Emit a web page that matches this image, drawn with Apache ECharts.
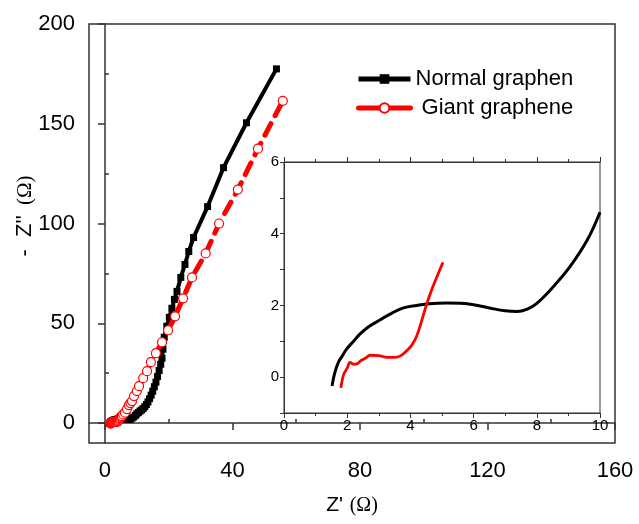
<!DOCTYPE html>
<html>
<head>
<meta charset="utf-8">
<script src="https://cdn.jsdelivr.net/npm/echarts@6/dist/echarts.min.js"></script>
<style>
  html, body { margin: 0; padding: 0; background: #fff; }
  #chart { width: 639px; height: 524px; }
</style>
</head>
<body>
<div id="chart"></div>
<script>
// Nyquist data: Z' (x) and -Z'' (y), in ohm
var normalX = [1.52, 1.6, 1.72, 1.85, 1.98, 2.2, 2.4, 2.7, 3.05, 3.4, 3.78, 4.2, 4.6, 5.15, 5.6, 6.0, 6.5, 7.0, 7.37, 7.7, 8.0, 8.5, 9.05, 9.6, 10.0,
    10.5, 11, 11.5, 12, 12.5, 13, 13.5, 14, 14.5, 15, 15.5, 16, 16.5, 17, 17.5, 17.9, 18.2, 18.6, 19.4, 20.2, 21, 21.8, 22.6, 23.8, 25.1, 26.3, 27.8, 32.2, 37.2, 44.4, 53.8];
var normalY = [-0.25, 0.1, 0.41, 0.6, 0.78, 1.0, 1.2, 1.42, 1.6, 1.78, 1.93, 2.0, 2.05, 2.07, 2.06, 2.02, 1.93, 1.85, 1.83, 1.9, 2.06, 2.5, 3.08, 3.83, 4.6,
    5.3, 6.0, 6.6, 7.3, 8.2, 9.3, 10.6, 12.2, 14, 16, 18.2, 20.5, 23.3, 26.3, 29.5, 32.5, 37, 43, 48.5, 53, 57.5, 62, 66, 73, 79.5, 86, 93, 108.5, 128, 150.5, 177.5];

var giantX = [1.8, 1.85, 1.9, 2.0, 2.09, 2.2, 2.3, 2.45, 2.6, 2.72, 3.0, 3.26, 3.5, 3.7, 3.9, 4.05, 4.2, 4.35, 4.52, 4.68, 4.84, 5.03,
    5.3, 5.7, 6.3, 6.9, 7.5, 8.0, 8.5, 9.1, 10, 10.7, 12, 13.2, 14.4, 16, 17.9, 19.8, 22, 24.5, 27.3, 31.6, 35.8, 41.7, 48, 55.8];
var giantY = [-0.3, -0.05, 0.1, 0.25, 0.41, 0.36, 0.37, 0.47, 0.54, 0.61, 0.6, 0.55, 0.55, 0.6, 0.75, 0.9, 1.15, 1.55, 2.05, 2.45, 2.8, 3.2,
    3.5, 4.3, 5.2, 7, 9, 10, 11, 13.5, 16, 18.5, 22.5, 26, 30.5, 35, 40.5, 46.5, 53.5, 62.5, 73, 85, 100, 117, 137.5, 161.5];

var seriesNames = ['Normal graphen', ' Giant graphene'];

// tick values
var mainXTicks = [0, 40, 80, 120, 160];
var mainXMinor = [20, 60, 100, 140];
var mainYTicks = [0, 50, 100, 150, 200];
var mainYMinor = [25, 75, 125, 175];
var insetLimit = 10;

function pairs(xs, ys, limit) {
    var out = [];
    for (var i = 0; i < xs.length; i++) {
        if (limit == null || xs[i] <= limit + 0.05) out.push([xs[i], ys[i]]);
    }
    return out;
}

var font = "'Liberation Sans', Arial, sans-serif";
var serif = "'Liberation Serif', 'Times New Roman', serif";
var frame = '#333';

var chart = echarts.init(document.getElementById('chart'));
chart.setOption({
    animation: false,
    backgroundColor: '#fff',
    textStyle: { fontFamily: font, color: '#000' },
    legend: {
        left: 351,
        top: 63,
        orient: 'vertical',
        itemWidth: 52,
        itemHeight: 12,
        itemGap: 7,
        data: seriesNames,
        lineStyle: { type: 'solid', width: 5 },
        textStyle: { fontSize: 22, fontFamily: font, color: '#000' }
    },
    grid: [
        // main plot
        { left: 89, top: 24, width: 526, height: 419, show: true, borderColor: frame, borderWidth: 1.5, backgroundColor: 'transparent' },
        // inset
        { left: 284, top: 162, width: 316, height: 251, show: true, borderColor: frame, borderWidth: 1, backgroundColor: '#fff' }
    ],
    xAxis: [
        {
            gridIndex: 0, type: 'value', min: -5, max: 160,
            name: "{z|Z'}  {o|(Ω)}", nameLocation: 'middle', nameGap: 52,
            nameTextStyle: {
                rich: {
                    z: { fontSize: 21, fontFamily: font, color: '#000' },
                    o: { fontSize: 20, fontFamily: serif, color: '#000' }
                }
            },
            axisLine: { show: true, lineStyle: { color: frame, width: 1.5 } },
            axisTick: { show: true, inside: false, length: 7, customValues: mainXTicks, lineStyle: { color: frame, width: 1.5 } },
            axisLabel: { customValues: mainXTicks, fontSize: 22, margin: 17, color: '#000' },
            splitLine: { show: false }
        },
        {
            gridIndex: 0, type: 'value', min: -5, max: 160,
            axisLine: { show: false },
            axisTick: { show: true, length: 4, customValues: mainXMinor, lineStyle: { color: frame, width: 1.5 } },
            axisLabel: { show: false },
            splitLine: { show: false }
        },
        {
            gridIndex: 1, type: 'value', min: 0, max: 10, interval: 2,
            axisLine: { show: true, onZero: false, lineStyle: { color: frame, width: 1 } },
            axisTick: { show: true, length: 5, lineStyle: { color: frame } },
            minorTick: { show: true, splitNumber: 2, length: 3, lineStyle: { color: frame } },
            axisLabel: { fontSize: 15, margin: 5, color: '#000' },
            splitLine: { show: false }
        },
        {
            gridIndex: 1, type: 'value', min: 0, max: 10, interval: 2, position: 'top',
            axisLine: { show: true, onZero: false, lineStyle: { color: frame, width: 1 } },
            axisTick: { show: true, length: 5, lineStyle: { color: frame } },
            minorTick: { show: true, splitNumber: 2, length: 3, lineStyle: { color: frame } },
            axisLabel: { show: false },
            splitLine: { show: false }
        }
    ],
    yAxis: [
        {
            gridIndex: 0, type: 'value', min: -10, max: 200,
            axisLine: { show: true, lineStyle: { color: frame, width: 1.5 } },
            axisTick: { show: true, length: 7, customValues: mainYTicks, lineStyle: { color: frame, width: 1.5 } },
            axisLabel: { customValues: mainYTicks, fontSize: 22, margin: 14, color: '#000' },
            splitLine: { show: false }
        },
        {
            gridIndex: 0, type: 'value', min: -10, max: 200,
            axisLine: { show: false },
            axisTick: { show: true, length: 4, customValues: mainYMinor, lineStyle: { color: frame, width: 1.5 } },
            axisLabel: { show: false },
            splitLine: { show: false }
        },
        {
            gridIndex: 1, type: 'value', min: -1, max: 6, interval: 1,
            axisLine: { show: true, onZero: false, lineStyle: { color: frame, width: 1 } },
            axisTick: { show: true, length: 4, lineStyle: { color: frame } },
            axisLabel: {
                fontSize: 15, margin: 5, color: '#000',
                formatter: function (v) { return v >= 0 && v % 2 === 0 ? String(v) : ''; }
            },
            splitLine: { show: false }
        }
    ],
    graphic: [
        {
            type: 'text', x: 25, y: 216, rotation: Math.PI / 2,
            style: {
                text: "{z|-  Z''}   {o|(Ω)}",
                align: 'center', verticalAlign: 'middle',
                rich: {
                    z: { fontSize: 22, fontFamily: font, fill: '#000' },
                    o: { fontSize: 21, fontFamily: serif, fill: '#000' }
                }
            }
        }
    ],
    series: [
        {
            name: seriesNames[0], type: 'line', xAxisIndex: 0, yAxisIndex: 0,
            data: pairs(normalX, normalY),
            symbol: 'rect', symbolSize: 7,
            itemStyle: { color: '#000' },
            lineStyle: { color: '#000', width: 4 },
            z: 3
        },
        {
            name: seriesNames[1], type: 'line', xAxisIndex: 0, yAxisIndex: 0,
            data: pairs(giantX, giantY),
            symbol: 'circle', symbolSize: 9,
            itemStyle: { color: '#fff', borderColor: '#ff0000', borderWidth: 1.2 },
            lineStyle: { color: '#ff0000', width: 5, type: [13, 9], cap: 'round' },
            z: 4
        },
        {
            name: seriesNames[0], type: 'line', xAxisIndex: 2, yAxisIndex: 2,
            data: pairs(normalX, normalY, insetLimit),
            showSymbol: false, smooth: 0.4,
            lineStyle: { color: '#000', width: 3 },
            z: 5
        },
        {
            name: seriesNames[1], type: 'line', xAxisIndex: 2, yAxisIndex: 2,
            data: pairs(giantX, giantY, 5.05),
            showSymbol: false, smooth: 0.4,
            lineStyle: { color: '#ff0000', width: 2.8 },
            z: 5
        }
    ]
});
</script>
</body>
</html>
